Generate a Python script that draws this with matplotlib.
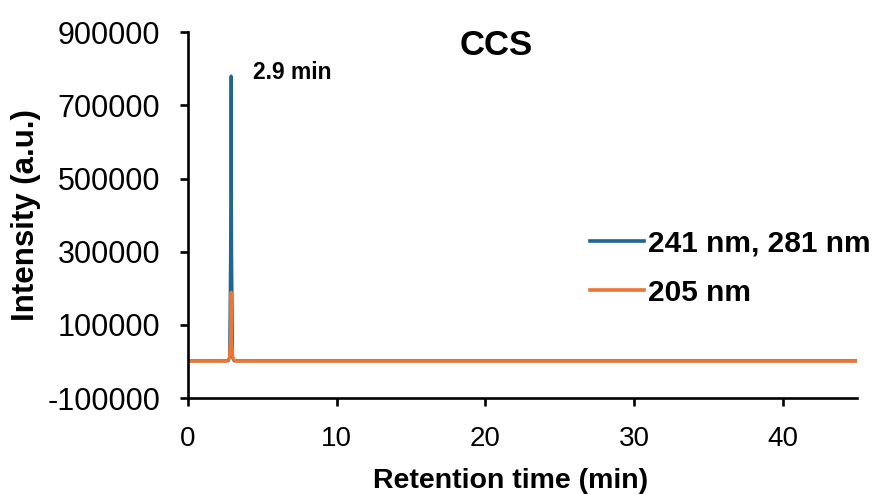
import matplotlib.pyplot as plt
from matplotlib.lines import Line2D

plt.rcParams['font.family'] = ['Liberation Sans', 'DejaVu Sans']

# chromatogram traces (retention time in min, intensity in a.u.)
time_uv241 = [0, 2.70, 2.80, 2.86, 2.90, 2.94, 3.00, 3.10, 45]
intensity_uv241 = [2000, 2000, 12000, 300000, 780000, 300000, 12000, 2000, 2000]

time_uv205 = [0, 2.60, 2.78, 2.86, 2.90, 2.94, 3.02, 3.20, 45]
intensity_uv205 = [1000, 1000, 8000, 60000, 190000, 60000, 8000, 1000, 1000]

peak_time = 2.9
peak_label = '2.9 min'

x_ticks = [0, 10, 20, 30, 40]
y_ticks = [-100000, 100000, 300000, 500000, 700000, 900000]

blue = '#1f6690'
orange = '#ee7533'

fig = plt.figure(figsize=(8.8, 4.94), dpi=100)
ax = fig.add_axes([0.2136, 0.194, 0.7604, 0.741])

ax.plot(time_uv241, intensity_uv241, color=blue, lw=2.2, solid_capstyle='round')
ax.plot(time_uv205, intensity_uv205, color=orange, lw=2.2, solid_capstyle='round')

ax.set_xlim(0, 45)
ax.set_ylim(-100000, 900000)
ax.set_xticks(x_ticks)
ax.set_yticks(y_ticks)
ax.set_yticklabels([str(v) for v in y_ticks])

for side in ['top', 'right']:
    ax.spines[side].set_visible(False)
for side in ['left', 'bottom']:
    ax.spines[side].set_linewidth(1.9)
ax.tick_params(direction='out', length=6, width=1.9)
ax.tick_params(axis='x', labelsize=20, pad=14)
ax.tick_params(axis='y', labelsize=22, pad=14)

ax.set_xlabel('Retention time (min)', fontsize=20.5, fontweight='bold')
ax.xaxis.set_label_coords(0.482, -0.19)
ax.set_ylabel('Intensity (a.u.)', fontsize=22.5, fontweight='bold')
ax.yaxis.set_label_coords(-0.219, 0.5)

fig.text(0.564, 0.908, 'CCS', fontsize=25, fontweight='bold', ha='center', va='center')
ax.annotate(peak_label, xy=(peak_time, max(intensity_uv241)), xytext=(4.4, 791000),
            fontsize=16.5, fontweight='bold', ha='left', va='center')

handles = [Line2D([], [], color=blue, lw=2.6),
           Line2D([], [], color=orange, lw=2.6)]
ax.legend(handles, ['241 nm, 281 nm', '205 nm'], loc='center left',
          bbox_to_anchor=(0.561, 0.355), frameon=False, handlelength=1.8,
          handletextpad=0.12, labelspacing=0.7,
          prop={'size': 21.5, 'weight': 'bold'})

plt.savefig('out.png', dpi=100)
